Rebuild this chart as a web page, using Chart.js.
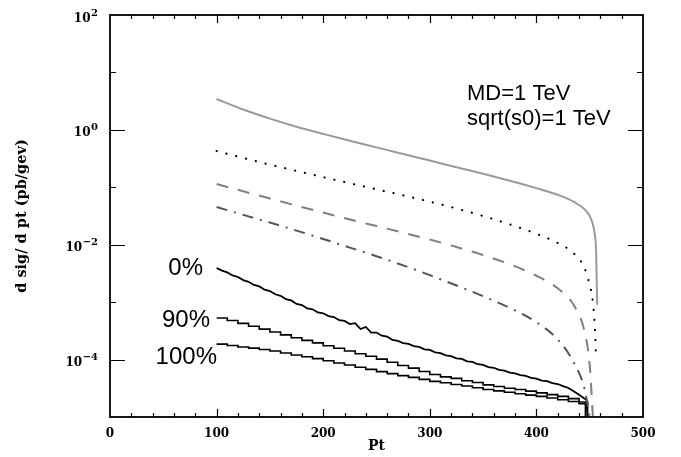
<!DOCTYPE html>
<html><head><meta charset="utf-8">
<script src="https://cdn.jsdelivr.net/npm/chart.js@4/dist/chart.umd.min.js"></script>
<style>html,body{margin:0;padding:0;background:#fff}canvas{display:block}</style>
</head><body>
<canvas id="c" width="681" height="457"></canvas>
<script>
// ---- data ----
const solidPt  = [100,125,150,175,200,225,250,275,300,325,350,375,400,420,435,445,450,453,455,456,457];
const solidVal = [3.44,2.26,1.57,1.135,0.851,0.646,0.495,0.380,0.292,0.224,0.172,0.130,0.0966,0.0741,0.0562,0.0417,0.0316,0.0224,0.0141,0.0079,0.0009];

const dotPt  = [100,125,150,175,200,225,250,275,300,325,350,375,400,420,435,445,450,453,455,456];
const dotVal = [0.428,0.324,0.248,0.193,0.150,0.1175,0.0923,0.0724,0.0562,0.0427,0.0316,0.0226,0.0155,0.0107,0.00708,0.00398,0.002,0.001,0.000316,0.0001];

const dashPt  = [100,125,150,175,200,225,250,275,300,325,350,375,400,420,435,445,450,453];
const dashVal = [0.114,0.0851,0.0638,0.0479,0.0363,0.0275,0.0211,0.0162,0.0123,0.00912,0.00661,0.00457,0.00288,0.00174,0.00089,0.000316,0.0000794,0.00001];

const dashDotPt  = [100,125,150,175,200,225,250,275,300,325,350,375,400,420,435,445,450];
const dashDotVal = [0.0454,0.0331,0.0243,0.0176,0.0126,0.00891,0.00631,0.00437,0.00295,0.00195,0.00127,0.000794,0.000447,0.000224,0.0000891,0.0000316,0.00001];

const zeroPt  = [100,105,110,115,120,125,130,135,140,145,150,155,160,165,170,175,180,185,190,195,200,205,210,215,220,225,230,235,240,245,250,255,260,265,270,275,280,285,290,295,300,305,310,315,320,325,330,335,340,345,350,355,360,365,370,375,380,385,390,395,400,405,410,415,420,425,430,435,440,445,447,448];
const zeroVal = [3.94e-3,3.55e-3,3.30e-3,2.92e-3,2.74e-3,2.42e-3,2.26e-3,1.99e-3,1.88e-3,1.65e-3,1.56e-3,1.37e-3,1.29e-3,1.13e-3,1.07e-3,9.3e-4,8.9e-4,7.8e-4,7.5e-4,6.6e-4,6.4e-4,5.7e-4,5.5e-4,4.85e-4,4.7e-4,4.15e-4,4.3e-4,3.4e-4,3.7e-4,2.95e-4,2.95e-4,2.6e-4,2.5e-4,2.2e-4,2.12e-4,1.94e-4,1.88e-4,1.72e-4,1.66e-4,1.51e-4,1.47e-4,1.34e-4,1.29e-4,1.18e-4,1.15e-4,1.05e-4,1.03e-4,9.3e-5,9.1e-5,8.3e-5,8.1e-5,7.4e-5,7.2e-5,6.6e-5,6.4e-5,5.95e-5,5.75e-5,5.35e-5,5.2e-5,4.8e-5,4.65e-5,4.3e-5,4.2e-5,3.9e-5,3.75e-5,3.45e-5,3.2e-5,2.8e-5,2.45e-5,2.1e-5,2.0e-5,1e-5];

const ninetyPt  = [100,110,120,130,140,150,160,170,180,190,200,210,220,230,240,250,260,270,280,290,300,310,320,330,340,350,360,370,380,390,400,410,420,430,440,448];
const ninetyVal = [5.30e-4,4.79e-4,4.27e-4,3.80e-4,3.39e-4,3.02e-4,2.69e-4,2.40e-4,2.16e-4,1.95e-4,1.74e-4,1.57e-4,1.41e-4,1.26e-4,1.14e-4,1.02e-4,9.0e-5,7.9e-5,7.1e-5,6.2e-5,5.5e-5,5.0e-5,4.7e-5,4.27e-5,3.98e-5,3.63e-5,3.39e-5,3.16e-5,3.02e-5,2.82e-5,2.63e-5,2.45e-5,2.29e-5,2.09e-5,1.82e-5,1e-5];

const hundredPt  = [100,110,120,130,140,150,160,170,180,190,200,210,220,230,240,250,260,270,280,290,300,310,320,330,340,350,360,370,380,390,400,410,420,430,440,446];
const hundredVal = [1.86e-4,1.76e-4,1.66e-4,1.58e-4,1.50e-4,1.41e-4,1.30e-4,1.20e-4,1.12e-4,1.04e-4,9.55e-5,8.71e-5,8.04e-5,7.33e-5,6.76e-5,6.17e-5,5.69e-5,5.25e-5,4.90e-5,4.52e-5,4.17e-5,3.94e-5,3.67e-5,3.47e-5,3.24e-5,3.02e-5,2.85e-5,2.69e-5,2.54e-5,2.40e-5,2.29e-5,2.14e-5,2.00e-5,1.86e-5,1.70e-5,1e-5];

const xTickValues = [0,100,200,300,400,500];
const xTickLabels = ['0','100','200','300','400','500'];
const yTickValues = [1e-4,1e-2,1,100];
const yTickBase = '10';
const yTickExp = ['\u22124','\u22122','0','2'];
const curveLabels = ['0%','90%','100%'];
const noteLines = ['MD=1 TeV','sqrt(s0)=1 TeV'];

// ---- helpers ----
const toPts = (xs, ys) => xs.map((x, i) => ({x: x, y: ys[i]}));
const serif = '"DejaVu Serif", serif';

const framePlugin = {
  id: 'frame',
  afterDatasetsDraw(chart) {
    const {ctx, chartArea: a, scales: {x, y}} = chart;
    ctx.save();
    ctx.strokeStyle = '#000';
    ctx.lineWidth = 1.2;
    ctx.beginPath();
    for (let v = 20; v < 500; v += 20) {
      const px = Math.round(x.getPixelForValue(v)) + 0.5;
      const len = (v % 100 === 0) ? 8 : 4;
      ctx.moveTo(px, a.bottom); ctx.lineTo(px, a.bottom - len);
      ctx.moveTo(px, a.top); ctx.lineTo(px, a.top + len);
    }
    for (let e = -4; e <= 1; e++) {
      const py = Math.round(y.getPixelForValue(Math.pow(10, e))) + 0.5;
      const len = (e % 2 === 0) ? 15 : 6;
      ctx.moveTo(a.left, py); ctx.lineTo(a.left + len, py);
      ctx.moveTo(a.right, py); ctx.lineTo(a.right - len, py);
    }
    ctx.stroke();
    ctx.lineWidth = 1.8;
    ctx.strokeRect(a.left, a.top, a.right - a.left, a.bottom - a.top);
    ctx.fillStyle = '#000';
    // x tick labels, placed by the x scale
    ctx.font = 'bold 12px ' + serif;
    ctx.textAlign = 'center';
    ctx.textBaseline = 'alphabetic';
    xTickValues.forEach((v, i) => {
      ctx.fillText(xTickLabels[i], x.getPixelForValue(v), a.bottom + 20);
    });
    // y tick labels with raised exponents, placed by the y scale
    ctx.textAlign = 'right';
    const rightEdge = a.left - 12;
    yTickValues.forEach((v, i) => {
      const py = y.getPixelForValue(v);
      ctx.font = 'bold 10px ' + serif;
      const ew = ctx.measureText(yTickExp[i]).width;
      ctx.fillText(yTickExp[i], rightEdge, py + 0.5);
      ctx.font = 'bold 12px ' + serif;
      ctx.fillText(yTickBase, rightEdge - ew - 0.5, py + 6.5);
    });
    ctx.restore();
  }
};

const textPlugin = {
  id: 'texts',
  afterDraw(chart) {
    const ctx = chart.ctx;
    ctx.save();
    ctx.fillStyle = '#000';
    ctx.font = '24px "Liberation Sans", Arial, sans-serif';
    ctx.textAlign = 'right';
    ctx.textBaseline = 'middle';
    ctx.fillText(curveLabels[0], 203, 268);
    ctx.fillText(curveLabels[1], 210, 320);
    ctx.fillText(curveLabels[2], 217, 357);
    ctx.font = '22px "Liberation Sans", Arial, sans-serif';
    ctx.textAlign = 'left';
    ctx.textBaseline = 'alphabetic';
    ctx.fillText(noteLines[0], 467, 100);
    ctx.fillText(noteLines[1], 467, 125);
    ctx.restore();
  }
};

new Chart(document.getElementById('c'), {
  type: 'line',
  data: {
    datasets: [
      {data: toPts(solidPt, solidVal), borderColor: '#9a9a9a', borderWidth: 2, cubicInterpolationMode: 'monotone'},
      {data: toPts(dotPt, dotVal), borderColor: '#000', borderWidth: 2.2, borderDash: [0.1, 10], borderCapStyle: 'round', cubicInterpolationMode: 'monotone'},
      {data: toPts(dashPt, dashVal), borderColor: '#808080', borderWidth: 2, borderDash: [12, 10], cubicInterpolationMode: 'monotone'},
      {data: toPts(dashDotPt, dashDotVal), borderColor: '#555', borderWidth: 2, borderDash: [11, 7, 2, 7], cubicInterpolationMode: 'monotone'},
      {data: toPts(zeroPt, zeroVal), borderColor: '#000', borderWidth: 1.8},
      {data: toPts(ninetyPt, ninetyVal), borderColor: '#000', borderWidth: 1.6, stepped: true},
      {data: toPts(hundredPt, hundredVal), borderColor: '#000', borderWidth: 1.6, stepped: true}
    ]
  },
  options: {
    responsive: false,
    animation: false,
    devicePixelRatio: 1,
    layout: {padding: {top: 15, right: 38, left: 0, bottom: 0}},
    plugins: {legend: {display: false}, tooltip: {enabled: false}},
    elements: {point: {radius: 0}, line: {fill: false}},
    scales: {
      x: {
        type: 'linear', min: 0, max: 500,
        grid: {display: false, drawTicks: false},
        border: {display: false},
        afterBuildTicks(s) { s.ticks = xTickValues.map(v => ({value: v})); },
        ticks: {display: false},
        title: {display: true, text: 'Pt', color: '#000', font: {family: serif, weight: 'bold', size: 14}, padding: {top: 0, bottom: 2}},
        afterFit(s) { s.height = 40; }
      },
      y: {
        type: 'logarithmic', min: 1e-5, max: 100,
        grid: {display: false, drawTicks: false},
        border: {display: false},
        afterBuildTicks(s) { s.ticks = yTickValues.map(v => ({value: v})); },
        ticks: {display: false},
        title: {display: true, text: 'd sig/ d pt (pb/gev)', color: '#000', font: {family: serif, weight: 'bold', size: 14.5}, padding: {top: 14, bottom: 0}},
        afterFit(s) { s.width = 110; }
      }
    }
  },
  plugins: [framePlugin, textPlugin]
});
</script>
</body></html>
